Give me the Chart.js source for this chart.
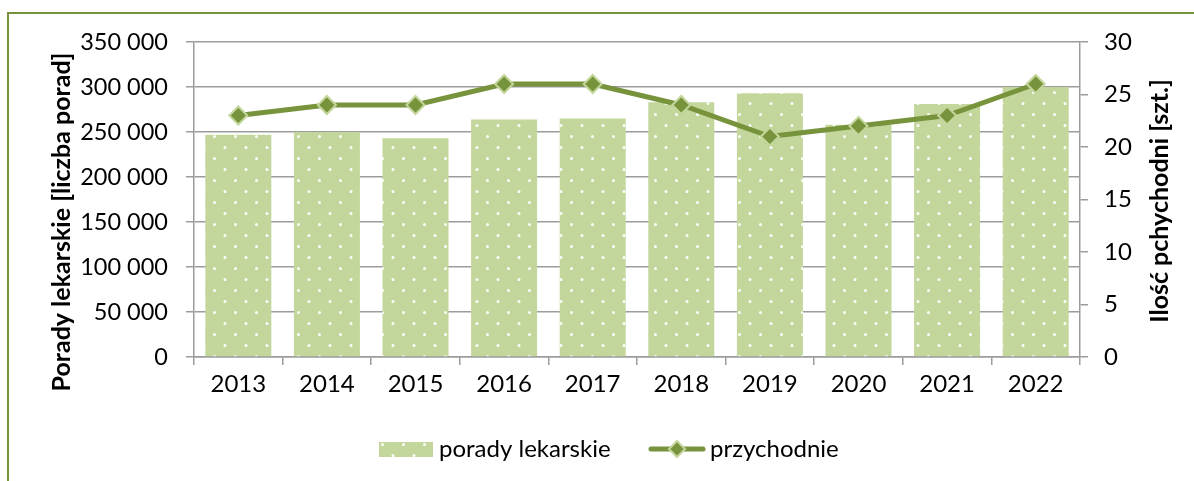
<!DOCTYPE html>
<html>
<head>
<meta charset="utf-8">
<script src="https://cdn.jsdelivr.net/npm/chart.js@4.4.0/dist/chart.umd.min.js"></script>
<style>
  html, body { margin: 0; padding: 0; background: #fff; overflow: hidden; }
  #wrap { position: relative; width: 1194px; height: 481px; }
  #frame { position: absolute; left: 7px; top: 12px; width: 1400px; height: 700px;
           border-left: 2px solid #77933c; border-top: 2px solid #77933c; }
  canvas { position: absolute; left: 0; top: 0; }
</style>
</head>
<body>
<div id="wrap">
  <div id="frame"></div>
  <canvas id="chart" width="1194" height="481"></canvas>
</div>
<script>
// dane
var lata = ['2013', '2014', '2015', '2016', '2017', '2018', '2019', '2020', '2021', '2022'];
var poradyLekarskie = [247000, 250000, 243000, 264000, 265000, 283000, 293000, 258000, 281000, 300000];
var przychodnie = [23, 24, 24, 26, 26, 24, 21, 22, 23, 26];

var tytulLewy = 'Porady lekarskie [liczba porad]';
var tytulPrawy = 'Ilość pchychodni [szt.]';
var nazwaSlupki = 'porady lekarskie';
var nazwaLinia = 'przychodnie';

var jasnyZielony = '#c3d69b';
var ciemnyZielony = '#77933c';
var szary = '#9c9c9c';
var czcionka = 'Lato, "Open Sans", sans-serif';

// wzór w kropki dla słupków
function makePattern() {
    var c = document.createElement('canvas');
    c.width = 21; c.height = 22;
    var x = c.getContext('2d');
    x.fillStyle = jasnyZielony;
    x.fillRect(0, 0, 21, 22);
    x.fillStyle = 'rgba(255,255,255,0.95)';
    x.beginPath(); x.arc(4.5, 4.5, 1.5, 0, Math.PI * 2); x.fill();
    x.beginPath(); x.arc(15, 15.5, 1.5, 0, Math.PI * 2); x.fill();
    return document.getElementById('chart').getContext('2d').createPattern(c, 'repeat');
}
var wzor = makePattern();

function formatLiczby(v) {
    return String(v).replace(/\B(?=(\d{3})+(?!\d))/g, ' ');
}

// tytuły osi i legenda rysowane ręcznie
var dodatki = {
    id: 'dodatki',
    afterDraw: function (chart) {
        var ctx = chart.ctx;
        ctx.save();
        ctx.fillStyle = '#000';
        ctx.font = 'bold 25px ' + czcionka;
        ctx.textAlign = 'center';
        ctx.textBaseline = 'middle';

        ctx.save();
        ctx.translate(62, 222);
        ctx.rotate(-Math.PI / 2);
        ctx.fillText(tytulLewy, 0, 0);
        ctx.restore();

        ctx.save();
        ctx.translate(1160, 201);
        ctx.rotate(-Math.PI / 2);
        ctx.fillText(tytulPrawy, 0, 0);
        ctx.restore();

        // legenda
        var ly = 449;
        ctx.font = '24px ' + czcionka;
        ctx.textAlign = 'left';
        ctx.fillStyle = wzor;
        ctx.fillRect(379, 442, 54, 15);
        ctx.fillStyle = '#000';
        ctx.fillText(nazwaSlupki, 439, ly);

        ctx.strokeStyle = ciemnyZielony;
        ctx.lineWidth = 5;
        ctx.lineCap = 'round';
        ctx.beginPath(); ctx.moveTo(651, ly); ctx.lineTo(703, ly); ctx.stroke();
        ctx.beginPath();
        ctx.moveTo(677, ly - 8); ctx.lineTo(685, ly); ctx.lineTo(677, ly + 8); ctx.lineTo(669, ly);
        ctx.closePath();
        ctx.fillStyle = ciemnyZielony; ctx.fill();
        ctx.lineWidth = 2; ctx.strokeStyle = jasnyZielony; ctx.stroke();
        ctx.fillStyle = '#000';
        ctx.fillText(nazwaLinia, 710, ly);
        ctx.restore();
    }
};

var ctx = document.getElementById('chart').getContext('2d');
var chart = new Chart(ctx, {
    type: 'bar',
    data: {
        labels: lata,
        datasets: [{
            type: 'line',
            label: nazwaLinia,
            data: przychodnie,
            yAxisID: 'y1',
            order: 0,
            borderColor: ciemnyZielony,
            borderWidth: 5,
            pointStyle: 'rectRot',
            pointRadius: 9,
            pointBackgroundColor: ciemnyZielony,
            pointBorderColor: jasnyZielony,
            pointBorderWidth: 2,
            tension: 0
        }, {
            type: 'bar',
            label: nazwaSlupki,
            data: poradyLekarskie,
            yAxisID: 'y',
            order: 1,
            backgroundColor: wzor,
            borderWidth: 0,
            categoryPercentage: 1,
            barPercentage: 0.745
        }]
    },
    options: {
        responsive: false,
        animation: false,
        layout: { padding: { top: 42, left: 0, right: 0, bottom: 0 } },
        plugins: {
            legend: { display: false },
            tooltip: { enabled: false }
        },
        scales: {
            x: {
                afterFit: function (s) { s.height = 124; },
                grid: { offset: true, drawOnChartArea: false, color: szary, lineWidth: 1.5, tickLength: 8 },
                border: { color: szary, width: 1.5 },
                ticks: { color: '#000', font: { family: czcionka, size: 24 }, padding: 5, maxRotation: 0 }
            },
            y: {
                position: 'left',
                min: 0, max: 350000,
                afterFit: function (s) { s.width = 194; },
                grid: { color: szary, lineWidth: 1.5, tickLength: 8 },
                border: { color: szary, width: 1.5 },
                ticks: { stepSize: 50000, color: '#000', font: { family: czcionka, size: 23.5 }, padding: 18,
                         callback: function (v) { return formatLiczby(v); } }
            },
            y1: {
                position: 'right',
                min: 0, max: 30,
                afterFit: function (s) { s.width = 114; },
                grid: { drawOnChartArea: false, color: szary, lineWidth: 1.5, tickLength: 8 },
                border: { color: szary, width: 1.5 },
                ticks: { stepSize: 5, color: '#000', font: { family: czcionka, size: 24 }, padding: 16 }
            }
        }
    },
    plugins: [dodatki]
});
</script>
</body>
</html>
